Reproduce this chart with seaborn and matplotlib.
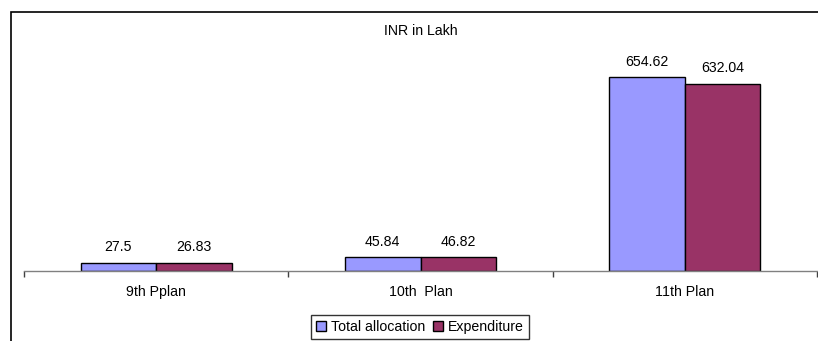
import matplotlib
matplotlib.use("Agg")
import matplotlib.pyplot as plt
import seaborn as sns
import pandas as pd
from matplotlib.patches import Rectangle

plans = ["9th Pplan", "10th  Plan", "11th Plan"]
series = ["Total allocation", "Expenditure"]
allocation = [27.5, 45.84, 654.62]
expenditure = [26.83, 46.82, 632.04]
alloc_labels = ["27.5", "45.84", "654.62"]
exp_labels = ["26.83", "46.82", "632.04"]
colors = ["#9999FF", "#993366"]

df = pd.DataFrame({
    "plan": plans * 2,
    "series": [series[0]] * 3 + [series[1]] * 3,
    "value": allocation + expenditure,
})

sns.set_style("white")
plt.rcParams["font.family"] = ["Liberation Sans", "DejaVu Sans"]
plt.rcParams["text.color"] = "black"
plt.rcParams["xtick.color"] = "black"
plt.rcParams["xtick.labelcolor"] = "black"
FS = 10.2

W, H = 818, 341
fig = plt.figure(figsize=(W / 100, H / 100), dpi=100)
ax = fig.add_axes([24 / W, (H - 270.7) / H, 793 / W, (270.7 - 63.6) / H])

sns.barplot(data=df, x="plan", y="value", hue="series", order=plans,
            hue_order=series, palette=colors, width=0.572, dodge=True,
            edgecolor="black", linewidth=1.0, saturation=1, ax=ax,
            legend=False)

ax.set_xlim(-0.5, 2.5)
ax.set_ylim(0, 700)
for c, labs in zip(ax.containers, [alloc_labels, exp_labels]):
    ax.bar_label(c, labels=labs, padding=6, fontsize=FS, color="black")

for s in ["left", "right", "top"]:
    ax.spines[s].set_visible(False)
ax.spines["bottom"].set_color("#808080")
ax.spines["bottom"].set_linewidth(1.0)
ax.set_yticks([])
ax.set_xlabel("")
ax.set_ylabel("")
ax.set_xticks(range(len(plans)))
ax.set_xticklabels(plans, fontsize=FS, color="black")
ax.tick_params(axis="x", which="major", length=0, pad=10.5, bottom=True,
               labelcolor="black")
ax.set_xticks([-0.5, 0.5, 1.5, 2.5], minor=True)
ax.tick_params(axis="x", which="minor", length=4, width=1, color="#404040",
               direction="out", bottom=True)

fig.text(421 / W, 1 - 31 / H, "INR in Lakh", ha="center", va="center",
         fontsize=FS, color="black")

# outer chart border (partially cropped)
fig.patches.append(Rectangle((11 / W, -0.2), 1.2, (H - 12) / H + 0.2,
                             transform=fig.transFigure, fill=False,
                             edgecolor="black", linewidth=1.2))

handles = [Rectangle((0, 0), 1, 1, facecolor=col, edgecolor="black",
                     linewidth=1.0) for col in colors]
leg = fig.legend(handles, series, loc="center",
                 bbox_to_anchor=(420 / W, 1 - 327 / H), ncol=2,
                 fontsize=FS, frameon=True, fancybox=False,
                 edgecolor="black", handlelength=0.7, handleheight=0.7,
                 handletextpad=0.4, columnspacing=0.5, borderpad=0.35,
                 borderaxespad=0)
leg.get_frame().set_linewidth(1.0)
for t in leg.get_texts():
    t.set_color("black")

fig.savefig("out.png", dpi=100)
